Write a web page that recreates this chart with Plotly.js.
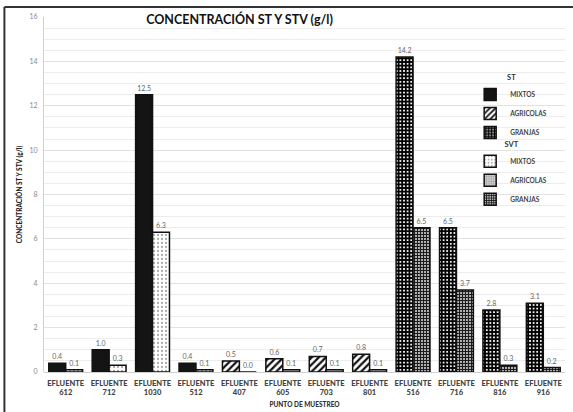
<!DOCTYPE html>
<html>
<head>
<meta charset="utf-8">
<script src="https://cdn.plot.ly/plotly-3.0.1.min.js"></script>
<style>
  html, body { margin: 0; padding: 0; background: #fff; }
  #chart { width: 573px; height: 412px; }
</style>
</head>
<body>
<div id="chart"></div>
<script>
// Sampling points, grouped by source type
const puntosMixtos = ['EFLUENTE<br>612', 'EFLUENTE<br>712', 'EFLUENTE<br>1030', 'EFLUENTE<br>512'];
const puntosAgricolas = ['EFLUENTE<br>407', 'EFLUENTE<br>605', 'EFLUENTE<br>703', 'EFLUENTE<br>801'];
const puntosGranjas = ['EFLUENTE<br>516', 'EFLUENTE<br>716', 'EFLUENTE<br>816', 'EFLUENTE<br>916'];

// Total solids (ST) in g/l
const stMixtos = [0.4, 1.0, 12.5, 0.4];
const stAgricolas = [0.5, 0.6, 0.7, 0.8];
const stGranjas = [14.2, 6.5, 2.8, 3.1];

// Volatile solids (SVT) in g/l
const svtMixtos = [0.1, 0.3, 6.3, 0.1];
const svtAgricolas = [0.0, 0.1, 0.1, 0.1];
const svtGranjas = [6.5, 3.7, 0.3, 0.2];

const categorias = puntosMixtos.concat(puntosAgricolas, puntosGranjas);

const labelFont = { family: 'Lato, sans-serif', size: 7, color: '#666' };
const outline = { color: '#111', width: 1.5 };

function barra(name, x, y, group, legend, marker) {
  return {
    type: 'bar', name: name, x: x, y: y,
    offsetgroup: group, legend: legend,
    marker: Object.assign({ line: outline }, marker),
    texttemplate: '%{y:.1f}', textposition: 'outside',
    textfont: labelFont, cliponaxis: false,
    hoverinfo: 'x+y+name'
  };
}

const data = [
  barra('MIXTOS', puntosMixtos, stMixtos, 'st', 'legend',
        { color: '#141414' }),
  barra('AGRICOLAS', puntosAgricolas, stAgricolas, 'st', 'legend',
        { color: '#fff', pattern: { shape: '/', fgcolor: '#111', bgcolor: '#fff', size: 5, solidity: 0.45 } }),
  barra('GRANJAS', puntosGranjas, stGranjas, 'st', 'legend',
        { color: '#fff', pattern: { shape: '+', fgcolor: '#000', bgcolor: '#fff', size: 3.6, solidity: 0.78 } }),
  barra('MIXTOS', puntosMixtos, svtMixtos, 'svt', 'legend2',
        { color: '#fff', pattern: { shape: '.', fgcolor: '#aaa', bgcolor: '#fff', size: 4, solidity: 0.25 } }),
  barra('AGRICOLAS', puntosAgricolas, svtAgricolas, 'svt', 'legend2',
        { color: '#c4c4c4', pattern: { shape: '.', fgcolor: '#999', bgcolor: '#cfcfcf', size: 3, solidity: 0.3 } }),
  barra('GRANJAS', puntosGranjas, svtGranjas, 'svt', 'legend2',
        { color: '#666', pattern: { shape: '+', fgcolor: '#1a1a1a', bgcolor: '#b0b0b0', size: 3, solidity: 0.55 } })
];

const legendBase = {
  xref: 'paper', yref: 'paper', xanchor: 'left', yanchor: 'top',
  bgcolor: 'rgba(255,255,255,0)', borderwidth: 0,
  font: { family: 'Lato, sans-serif', size: 6.5, color: '#444', weight: 'bold' },
  itemwidth: 30, tracegroupgap: 0
};

const legendTitleFont = { family: 'Lato, sans-serif', size: 7.5, color: '#333', weight: 'bold' };

const layout = {
  width: 573, height: 412,
  margin: { l: 44, r: 8, t: 17, b: 40 },
  paper_bgcolor: '#fff', plot_bgcolor: '#fff',
  barmode: 'group', bargap: 0.22, bargroupgap: 0,
  font: { family: 'Lato, sans-serif' },
  title: {
    text: 'CONCENTRACIÓN ST Y STV (g/l)',
    font: { family: 'Lato, sans-serif', size: 12.5, color: '#111', weight: 'bold' },
    xref: 'container', x: 0.418, xanchor: 'center',
    yref: 'container', y: 0.952, yanchor: 'middle'
  },
  xaxis: {
    type: 'category', categoryorder: 'array', categoryarray: categorias,
    tickfont: { family: 'Lato, sans-serif', size: 7.5, color: '#444', weight: 900 },
    ticks: '', ticklabelstandoff: 5, showline: false, showgrid: false,
    title: {
      text: 'PUNTO DE MUESTREO', standoff: 6,
      font: { family: 'Lato, sans-serif', size: 6.5, color: '#333', weight: 900 }
    }
  },
  yaxis: {
    range: [0, 16], dtick: 2, tick0: 0,
    tickfont: { family: 'Lato, sans-serif', size: 7, color: '#888' },
    ticks: '', ticklabelstandoff: 4,
    showline: true, linecolor: '#d0d0d0', linewidth: 1,
    gridcolor: '#e2e2e2', zeroline: true, zerolinecolor: '#d0d0d0',
    minor: { dtick: 0.5, showgrid: true, gridcolor: '#ececec', gridwidth: 1 },
    title: {
      text: 'CONCENTRACIÓN ST Y STV (g/l)', standoff: 6,
      font: { family: 'Lato, sans-serif', size: 6.5, color: '#222', weight: 900 }
    }
  },
  legend: Object.assign({}, legendBase, {
    x: 0.818, y: 0.85,
    title: { text: 'ST', side: 'top center', font: legendTitleFont }
  }),
  legend2: Object.assign({}, legendBase, {
    x: 0.818, y: 0.662,
    title: { text: 'SVT', side: 'top center', font: legendTitleFont }
  }),
  shapes: [
    // chart frame: top and left edges
    { type: 'line', xref: 'paper', yref: 'paper', x0: -0.076, x1: 1.02, y0: 1.028, y1: 1.028,
      line: { color: '#333', width: 2 } },
    { type: 'line', xref: 'paper', yref: 'paper', x0: -0.076, x1: -0.076, y0: 1.028, y1: -0.12,
      line: { color: '#333', width: 2 } }
  ]
};

Plotly.newPlot('chart', data, layout, { displayModeBar: false, staticPlot: true });
</script>
</body>
</html>
